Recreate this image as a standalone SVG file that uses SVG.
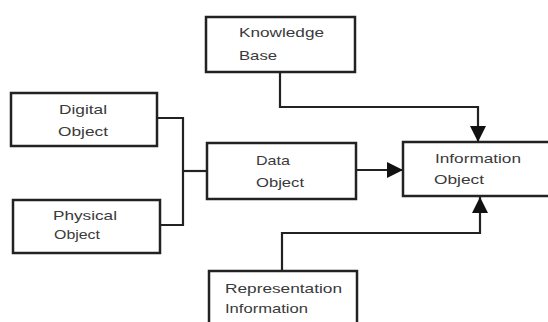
<svg xmlns="http://www.w3.org/2000/svg" width="548" height="322" viewBox="0 0 548 322">
<style>
.box{fill:#fff;stroke:#222;stroke-width:2.5}
.t{font-family:"Liberation Sans",Arial,sans-serif;font-size:13px;fill:#3a3a3a}
.c{fill:none;stroke:#222;stroke-width:2.2}
</style>
<defs>
<marker id="ah" viewBox="0 0 16 16" refX="16" refY="8" markerWidth="16" markerHeight="16" markerUnits="userSpaceOnUse" orient="auto">
<path d="M0,0 L16,8 L0,16 Z" fill="#111"/>
</marker>
</defs>
<rect width="548" height="322" fill="#fff"/>
<g id="connectors">
<path class="c" d="M157,118 H183 V225 H160"/>
<path class="c" d="M183,171 H207"/>
<path class="c" d="M356,170 H403" marker-end="url(#ah)"/>
<path class="c" d="M280,72 V107 H478 V142" marker-end="url(#ah)"/>
<path class="c" d="M282,271 V233 H480 V197" marker-end="url(#ah)"/>
</g>
<g id="knowledge-base">
<rect class="box" x="206" y="17" width="149" height="55"/>
<text class="t" x="239" y="37" textLength="85" lengthAdjust="spacingAndGlyphs">Knowledge</text>
<text class="t" x="239" y="60" textLength="38" lengthAdjust="spacingAndGlyphs">Base</text>
</g>
<g id="digital-object">
<rect class="box" x="11" y="93" width="146" height="53"/>
<text class="t" x="59" y="114" textLength="48" lengthAdjust="spacingAndGlyphs">Digital</text>
<text class="t" x="58" y="136" textLength="50" lengthAdjust="spacingAndGlyphs">Object</text>
</g>
<g id="physical-object">
<rect class="box" x="13" y="200" width="147" height="53"/>
<text class="t" x="53" y="220" textLength="64" lengthAdjust="spacingAndGlyphs">Physical</text>
<text class="t" x="54" y="239" textLength="46" lengthAdjust="spacingAndGlyphs">Object</text>
</g>
<g id="data-object">
<rect class="box" x="207" y="143" width="149" height="56"/>
<text class="t" x="256" y="165" textLength="34" lengthAdjust="spacingAndGlyphs">Data</text>
<text class="t" x="256" y="187" textLength="48" lengthAdjust="spacingAndGlyphs">Object</text>
</g>
<g id="information-object">
<rect class="box" x="403" y="142" width="160" height="54"/>
<text class="t" x="435" y="163" textLength="86" lengthAdjust="spacingAndGlyphs">Information</text>
<text class="t" x="434" y="184" textLength="50" lengthAdjust="spacingAndGlyphs">Object</text>
</g>
<g id="representation-information">
<rect class="box" x="209" y="271" width="148" height="60"/>
<text class="t" x="225" y="293" textLength="117" lengthAdjust="spacingAndGlyphs">Representation</text>
<text class="t" x="225" y="313" textLength="83" lengthAdjust="spacingAndGlyphs">Information</text>
</g>
</svg>
